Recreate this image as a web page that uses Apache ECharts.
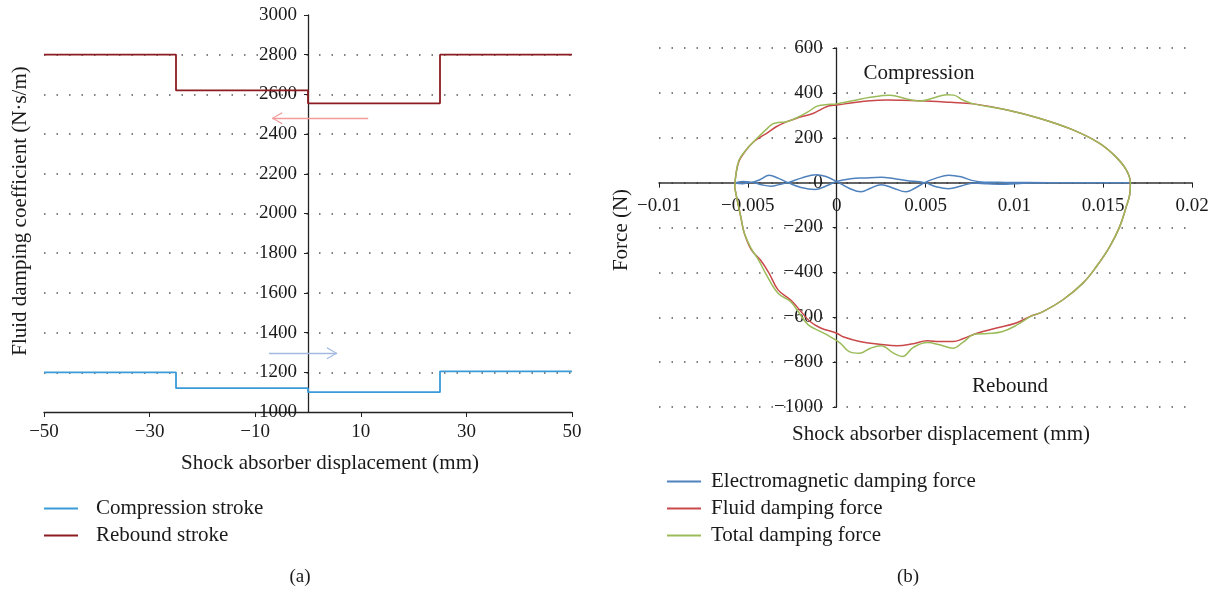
<!DOCTYPE html>
<html><head><meta charset="utf-8">
<script src="https://cdn.jsdelivr.net/npm/echarts@6/dist/echarts.min.js"></script>
<style>html,body{margin:0;padding:0;background:#fff}#c{width:1215px;height:590px}</style>
</head><body><div id="c"></div><script>
// ---------- (a) fluid damping coefficient ----------
const strokeBreaks = [-50, -25, 0, 25, 50];
const compressionStroke = [1200, 1120, 1100, 1205, 1205];
const reboundStroke = [2800, 2620, 2555, 2800, 2800];
const reboundArrow = [[11.4, 2480], [-6.8, 2480]];
const compressionArrow = [[-7.4, 1296], [5.5, 1296]];
const xTicksA = [-50, 50, 20];      // min, max, step
const yTicksA = [1000, 3000, 200];

// ---------- (b) damping force vs displacement ----------
const emForward = [[-0.00574,-2],[-0.0053,5],[-0.0048,2],[-0.0043,14],[-0.0038,33],[-0.0033,20],[-0.00275,0],[-0.002,-22],[-0.0012,-31],[-0.0006,-15],[0,5],[0.0008,17],[0.0016,21],[0.0025,24],[0.0032,18],[0.0039,9],[0.00495,0],[0.0056,-18],[0.0063,-27],[0.007,-15],[0.0077,-2],[0.0085,-5],[0.0095,-7],[0.0105,-3],[0.012,0],[0.0165,0]];
const emReturn = [[0.0165,0],[0.012,0],[0.0095,1],[0.0083,2],[0.0076,10],[0.007,26],[0.0063,33],[0.0056,20],[0.00495,0],[0.0044,-25],[0.0039,-41],[0.0032,-25],[0.0025,-9],[0.0019,-25],[0.00138,-41],[0.0007,-25],[0,5],[-0.0006,27],[-0.00115,35],[-0.002,20],[-0.00275,0],[-0.0033,-10],[-0.0037,-16],[-0.0043,-8],[-0.0048,2],[-0.0053,-5],[-0.00574,-2]];
const fluidUpper = [[-0.00574,-20],[-0.00568,30],[-0.0055,95],[-0.0051,145],[-0.0047,180],[-0.0043,203],[-0.0039,222],[-0.0034,249],[-0.0028,272],[-0.0021,291],[-0.0013,309],[-0.0008,330],[-0.0004,343],[0,346],[0.0009,356],[0.0019,365],[0.0028,368],[0.0047,365],[0.0064,358],[0.0077,351],[0.0096,324],[0.0114,287],[0.0133,235],[0.0148,175],[0.0157,116],[0.0163,57],[0.01653,0]];
const fluidLower = [[0.0165,-50],[0.0163,-107],[0.01593,-196],[0.01537,-285],[0.01462,-374],[0.01386,-448],[0.01274,-522],[0.01161,-575],[0.01087,-597],[0.0101,-626],[0.009,-648],[0.0079,-671],[0.0071,-696],[0.00655,-708],[0.0058,-708],[0.0051,-705],[0.0043,-718],[0.0034,-727],[0.0024,-720],[0.0013,-708],[0.0004,-688],[0,-671],[-0.0009,-648],[-0.0015,-619],[-0.002,-575],[-0.0026,-522],[-0.0033,-478],[-0.0038,-404],[-0.0043,-344],[-0.0048,-300],[-0.0052,-225],[-0.0054,-151],[-0.0056,-77],[-0.00574,-20]];
const totalUpper = [[-0.00574,-20],[-0.00568,30],[-0.0055,100],[-0.0051,146],[-0.0047,180],[-0.0043,212],[-0.0039,242],[-0.0036,262],[-0.0033,268],[-0.0029,270],[-0.0023,287],[-0.0016,316],[-0.0011,341],[-0.0004,349],[0,351],[0.0009,365],[0.0019,380],[0.003,389],[0.0039,374],[0.0047,364],[0.0054,376],[0.0062,392],[0.0066,390],[0.0071,368],[0.0077,351],[0.0096,324],[0.0114,287],[0.0133,235],[0.0148,175],[0.0157,116],[0.0163,57],[0.01653,0]];
const totalLower = [[0.0165,-50],[0.0163,-107],[0.01593,-196],[0.01537,-285],[0.01462,-374],[0.01386,-448],[0.01274,-522],[0.01161,-575],[0.0109,-597],[0.0102,-632],[0.0093,-665],[0.0085,-672],[0.0078,-675],[0.0071,-712],[0.00655,-738],[0.0058,-723],[0.0051,-713],[0.0043,-735],[0.0037,-775],[0.0032,-760],[0.0025,-727],[0.0019,-738],[0.0013,-760],[0.0007,-753],[0.0002,-715],[-0.0004,-685],[-0.0009,-664],[-0.0016,-634],[-0.0021,-582],[-0.0026,-530],[-0.0033,-493],[-0.004,-404],[-0.0044,-344],[-0.0048,-295],[-0.0052,-225],[-0.0054,-151],[-0.0056,-77],[-0.00574,-20]];
const xTicksB = [-0.01, 0.02, 0.005];
const yTicksB = [-1000, 600, 200];

const W = 1215, H = 590;
const gridA = {left: 44, right: 643, top: 15, bottom: 178};
const gridB = {left: 659, right: 23, top: 48, bottom: 183};
// axes crossing at zero: shift the whole axis (line, ticks, labels) to the zero position
const zeroShift = (len, t) => -len * (0 - t[0]) / (t[1] - t[0]);
const offYA = zeroShift(W - gridA.left - gridA.right, xTicksA);
const offYB = zeroShift(W - gridB.left - gridB.right, xTicksB);
const offXB = zeroShift(H - gridB.top - gridB.bottom, yTicksB);

const FONT = '"Liberation Serif", "Times New Roman", serif';
const TXT = '#1a1a1a';
const minus = v => String(v).replace('-', '\u2212');
const dots = {show: true, lineStyle: {type: [1.5, 11], color: '#555', width: 1.5}};
const chevron = 'path://M6,10 L12,20 L11,20.8 L6,12 L1,20.8 L0,20 Z M6,0 L6.01,0 Z';
const tickLabel = (margin) => ({fontSize: 19, color: TXT, fontFamily: FONT, margin, formatter: minus});

const chart = echarts.init(document.getElementById('c'));
const arrowLine = (pts, color) => ({
  silent: true, symbol: ['none', chevron], symbolSize: [12, 21],
  label: {show: false}, emphasis: {disabled: true},
  lineStyle: {color, type: 'solid', width: 1.3},
  data: [[{coord: pts[0]}, {coord: pts[1]}]]
});
const legendText = (pad) => ({fontSize: 21, lineHeight: 21, fontFamily: FONT, color: TXT, padding: [0, 0, 0, pad]});
const txt = (text, x, y, size, rot) => ({type: 'text', x, y, rotation: rot || 0, silent: true,
  style: {text, fontSize: size, fontFamily: FONT, fill: TXT, align: 'center', verticalAlign: 'middle'}});

chart.setOption({
  animation: false,
  textStyle: {fontFamily: FONT},
  grid: [gridA, gridB],
  xAxis: [
    {gridIndex: 0, type: 'value', min: xTicksA[0], max: xTicksA[1], interval: xTicksA[2],
     axisLine: {lineStyle: {color: '#222', width: 1.3}}, axisTick: {length: 5, lineStyle: {color: '#222'}},
     axisLabel: tickLabel(11), splitLine: {show: false}},
    {gridIndex: 1, type: 'value', position: 'bottom', offset: offXB,
     min: xTicksB[0], max: xTicksB[1], interval: xTicksB[2],
     axisLine: {onZero: false, lineStyle: {color: '#333', width: 1.5}}, axisTick: {length: 5, lineStyle: {color: '#222'}},
     axisLabel: tickLabel(14), splitLine: {show: false}}
  ],
  yAxis: [
    {gridIndex: 0, type: 'value', position: 'left', offset: offYA,
     min: yTicksA[0], max: yTicksA[1], interval: yTicksA[2],
     axisLine: {show: true, onZero: false, lineStyle: {color: '#222', width: 1.3}},
     axisTick: {show: true, length: 4, lineStyle: {color: '#222'}},
     axisLabel: tickLabel(11), splitLine: Object.assign({}, dots, {showMaxLine: false, showMinLine: false})},
    {gridIndex: 1, type: 'value', position: 'left', offset: offYB,
     min: yTicksB[0], max: yTicksB[1], interval: yTicksB[2],
     axisLine: {show: true, onZero: false, lineStyle: {color: '#222', width: 1.3}},
     axisTick: {show: true, length: 4, lineStyle: {color: '#222'}},
     axisLabel: tickLabel(14), splitLine: dots}
  ],
  legend: [
    {data: ['Compression stroke', 'Rebound stroke'], orient: 'vertical', left: 44, top: 498, padding: 0,
     icon: 'rect', itemWidth: 34, itemHeight: 2, itemGap: 6, selectedMode: false, textStyle: legendText(13)},
    {data: ['Electromagnetic damping force', 'Fluid damping force', 'Total damping force'], orient: 'vertical',
     left: 667, top: 471, padding: 0, icon: 'rect', itemWidth: 34, itemHeight: 2, itemGap: 6, selectedMode: false,
     textStyle: legendText(5)}
  ],
  series: [
    {name: 'Compression stroke', type: 'line', xAxisIndex: 0, yAxisIndex: 0, step: 'end', symbol: 'none',
     data: strokeBreaks.map((x, i) => [x, compressionStroke[i]]),
     itemStyle: {color: '#3a9bd8'}, lineStyle: {color: '#3a9bd8', width: 1.8},
     markLine: arrowLine(compressionArrow, '#a3b9e0')},
    {name: 'Rebound stroke', type: 'line', xAxisIndex: 0, yAxisIndex: 0, step: 'end', symbol: 'none',
     data: strokeBreaks.map((x, i) => [x, reboundStroke[i]]),
     itemStyle: {color: '#8c1c22'}, lineStyle: {color: '#8c1c22', width: 1.8},
     markLine: arrowLine(reboundArrow, '#f29a9a')},
    {name: 'Electromagnetic damping force', type: 'line', xAxisIndex: 1, yAxisIndex: 1, symbol: 'none', smooth: 0.4,
     data: emForward.concat(emReturn), itemStyle: {color: '#4f81bd'}, lineStyle: {color: '#4f81bd', width: 1.5}},
    {name: 'Fluid damping force', type: 'line', xAxisIndex: 1, yAxisIndex: 1, symbol: 'none', smooth: 0.4,
     data: fluidUpper.concat(fluidLower), itemStyle: {color: '#c9484a'}, lineStyle: {color: '#c9484a', width: 1.5}},
    {name: 'Total damping force', type: 'line', xAxisIndex: 1, yAxisIndex: 1, symbol: 'none', smooth: 0.4,
     data: totalUpper.concat(totalLower), itemStyle: {color: '#9bbb59'}, lineStyle: {color: '#9bbb59', width: 1.5}}
  ],
  graphic: [
    txt('Fluid damping coefficient (N\u00b7s/m)', 20, 211, 21, Math.PI / 2),
    txt('Shock absorber displacement (mm)', 330, 463, 21),
    txt('Force (N)', 621, 230, 21, Math.PI / 2),
    txt('Shock absorber displacement (mm)', 941, 434, 21),
    txt('Compression', 919, 73, 21),
    txt('Rebound', 1010, 386, 21),
    txt('(a)', 300, 577, 19),
    txt('(b)', 908, 577, 19)
  ]
});
</script></body></html>
